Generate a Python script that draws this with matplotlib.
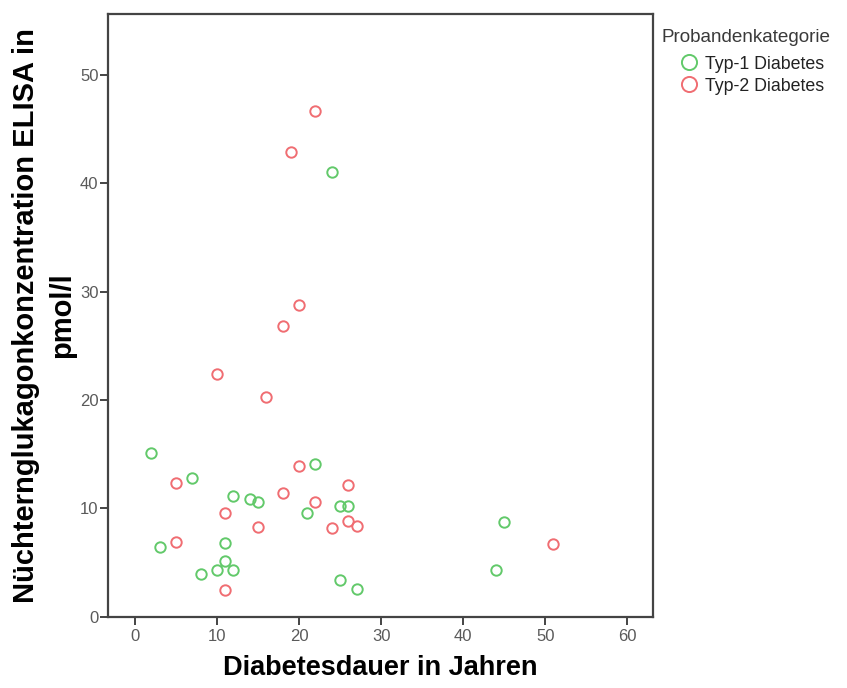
import numpy as np
import matplotlib.pyplot as plt

plt.rcParams['font.family'] = ['Liberation Sans', 'DejaVu Sans']

# Diabetesdauer (Jahre) und Nuechternglukagon (pmol/l)
typ1_dauer = [24, 2, 22, 7, 12, 14, 15, 25, 26, 21, 3, 11, 11, 10, 12, 8, 25, 27, 45, 44]
typ1_glukagon = [41.1, 15.1, 14.1, 12.8, 11.1, 10.9, 10.6, 10.2, 10.25, 9.6,
                 6.4, 6.8, 5.1, 4.3, 4.3, 3.9, 3.4, 2.6, 8.7, 4.3]

typ2_dauer = [22, 19, 20, 18, 10, 16, 20, 5, 26, 18, 22, 11, 15, 26, 27, 24, 5, 11, 51]
typ2_glukagon = [46.7, 42.9, 28.75, 26.8, 22.4, 20.3, 13.9, 12.3, 12.2, 11.4,
                 10.6, 9.55, 8.3, 8.85, 8.4, 8.2, 6.9, 2.5, 6.7]

col_t1 = '#62c96a'
col_t2 = '#f06d72'

fig = plt.figure(figsize=(8.47, 6.88), dpi=100)
ax = fig.add_axes([108.3 / 847, 1 - 616.7 / 688, (652.7 - 108.3) / 847, (616.7 - 14) / 688])

ax.plot(typ1_dauer, typ1_glukagon, 'o', ls='none', mfc='none', mec=col_t1,
        ms=7.5, mew=1.4, label='Typ-1 Diabetes')
ax.plot(typ2_dauer, typ2_glukagon, 'o', ls='none', mfc='none', mec=col_t2,
        ms=7.5, mew=1.4, label='Typ-2 Diabetes')

ax.set_xlim(-3.25, 63.1)
ax.set_ylim(0, 55.65)
ax.set_xticks(np.arange(0, 61, 10))
ax.set_yticks(np.arange(0, 51, 10))

for s in ax.spines.values():
    s.set_color('#444444')
    s.set_linewidth(1.6)
ax.tick_params(direction='out', length=6, width=1.4, color='#444444',
               labelcolor='#5a5a5a', labelsize=12, pad=3)
ax.tick_params(axis='y', pad=1)

ax.set_xlabel('Diabetesdauer in Jahren', fontsize=19.5, fontweight='bold', labelpad=8)
ax.set_ylabel('Nüchternglukagonkonzentration ELISA in\npmol/l', fontsize=21,
              fontweight='bold', labelpad=3, linespacing=1.35)

leg = ax.legend(loc='upper left', bbox_to_anchor=(653 / 847, 1 - 20 / 688),
                bbox_transform=fig.transFigure, frameon=False, title='Probandenkategorie',
                fontsize=12.8, title_fontsize=13.6, handletextpad=-0.7, handlelength=3.1,
                labelspacing=0.28, borderpad=0, markerscale=1.45)
leg._legend_box.align = 'left'
leg._legend_box.sep = 7
leg.get_title().set_color('#3a3a3a')
for t in leg.get_texts():
    t.set_color('#222222')

fig.savefig('out.png', dpi=100)
